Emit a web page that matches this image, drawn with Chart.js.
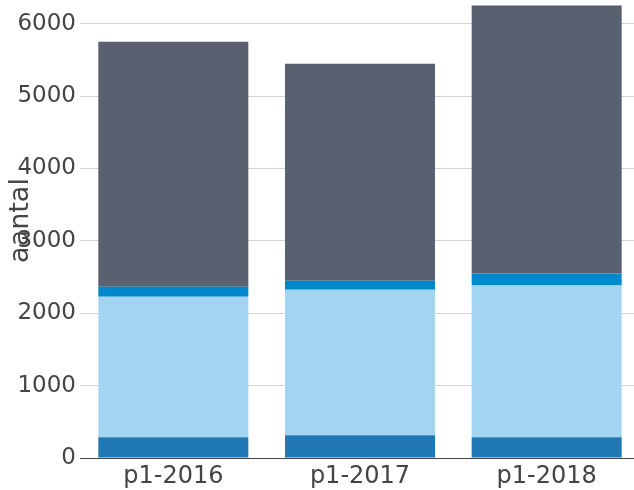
<!DOCTYPE html>
<html>
<head>
<meta charset="utf-8">
<script src="https://cdn.jsdelivr.net/npm/chart.js@4/dist/chart.umd.min.js"></script>
<style>
  html, body { margin: 0; padding: 0; overflow: hidden; background: #fff; width: 634px; height: 490px; }
  #wrap { position: absolute; left: 0; top: -17px; width: 640px; height: 507px; }
</style>
</head>
<body>
<div id="wrap"><canvas id="c"></canvas></div>
<script>
const categories = ["p1-2016", "p1-2017", "p1-2018"];
const seriesA = [286, 314, 286];     // bottom, dark blue
const seriesB = [1940, 2009, 2097];  // light blue
const seriesC = [139, 125, 167];     // mid blue
const seriesD = [3386, 2999, 3699];  // top, grey
const yTicks = [0, 1000, 2000, 3000, 4000, 5000, 6000];
const yAxisTitle = "aantal";

const FONT = "'DejaVu Sans', Verdana, sans-serif";

const titlePlugin = {
  id: 'yTitle',
  afterDraw(chart) {
    const ctx = chart.ctx;
    const area = chart.chartArea;
    ctx.save();
    ctx.translate(28, (area.top + area.bottom) / 2);
    ctx.rotate(-Math.PI / 2);
    ctx.font = "27px " + FONT;
    ctx.fillStyle = "#444";
    ctx.textAlign = "center";
    ctx.textBaseline = "alphabetic";
    ctx.fillText(yAxisTitle, 0, 0);
    ctx.restore();
  }
};

const common = { barPercentage: 0.8036, categoryPercentage: 1.0, borderWidth: 0 };

new Chart(document.getElementById('c'), {
  type: 'bar',
  data: {
    labels: categories,
    datasets: [
      Object.assign({ label: 'A', data: seriesA, backgroundColor: '#1f77b4' }, common),
      Object.assign({ label: 'B', data: seriesB, backgroundColor: '#a3d5f2' }, common),
      Object.assign({ label: 'C', data: seriesC, backgroundColor: '#0088cc' }, common),
      Object.assign({ label: 'D', data: seriesD, backgroundColor: '#596170' }, common)
    ]
  },
  options: {
    responsive: true,
    maintainAspectRatio: false,
    animation: false,
    layout: { padding: 0 },
    plugins: { legend: { display: false }, tooltip: { enabled: false } },
    scales: {
      x: {
        stacked: true,
        grid: { display: false, drawTicks: false },
        border: { display: true, color: '#444', width: 1 },
        ticks: { color: '#444', font: { family: FONT, size: 24 }, padding: 4, maxRotation: 0 },
        afterFit(s) { s.height = 32; s.paddingLeft = 0; s.paddingRight = 0; }
      },
      y: {
        stacked: true,
        min: 0,
        max: 6561,
        afterBuildTicks(s) { s.ticks = yTicks.map(v => ({ value: v })); },
        grid: { color: '#d4d4d4', drawTicks: false, lineWidth: 1 },
        border: { display: false },
        ticks: { color: '#444', font: { family: FONT, size: 23 }, padding: 4, callback: v => String(v) },
        afterFit(s) { s.width = 80; s.paddingTop = 0; s.paddingBottom = 0; }
      }
    }
  },
  plugins: [titlePlugin]
});
</script>
</body>
</html>
